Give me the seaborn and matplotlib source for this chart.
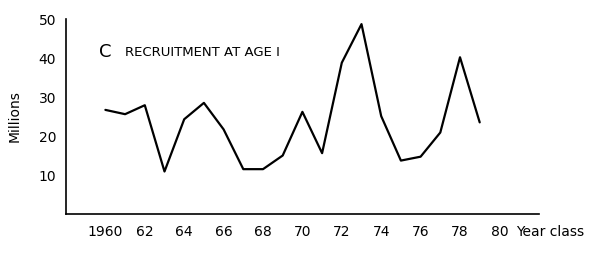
import matplotlib
matplotlib.use("Agg")
import matplotlib.pyplot as plt
import seaborn as sns
import pandas as pd

years = [1960, 1961, 1962, 1963, 1964, 1965, 1966, 1967, 1968, 1969,
         1970, 1971, 1972, 1973, 1974, 1975, 1976, 1977, 1978, 1979]
recruits = [26.7, 25.6, 27.9, 10.9, 24.3, 28.5, 21.7, 11.5, 11.5, 15.0,
            26.2, 15.6, 38.8, 48.7, 25.1, 13.7, 14.7, 20.9, 40.2, 23.5]
xticks = [1960, 1962, 1964, 1966, 1968, 1970, 1972, 1974, 1976, 1978, 1980]
xticklabels = ["1960", "62", "64", "66", "68", "70", "72", "74", "76", "78", "80"]
yticks = [10, 20, 30, 40, 50]

sns.set_style("white")
plt.rcParams['font.family'] = ['DejaVu Sans']
plt.rcParams['text.color'] = 'black'
plt.rcParams['xtick.color'] = 'black'
plt.rcParams['ytick.color'] = 'black'
plt.rcParams['axes.labelcolor'] = 'black'

df = pd.DataFrame({"year": years, "millions": recruits})

fig = plt.figure(figsize=(6, 2.54), dpi=100)
ax = fig.add_axes([0.11, 0.1575, 0.788, 0.7675])
sns.lineplot(data=df, x="year", y="millions", ax=ax, color="black", linewidth=1.6)

ax.set_xlim(1958, 1982)
ax.set_ylim(0, 50)
ax.set_xticks(xticks)
ax.set_xticklabels(xticklabels, fontsize=10)
ax.set_yticks(yticks)
ax.set_yticklabels([str(v) for v in yticks], fontsize=10)
ax.tick_params(axis="x", direction="in", length=4, width=1, pad=8, colors="black")
ax.tick_params(axis="y", direction="out", length=4, width=1, pad=3, colors="black")
ax.set_xlabel("")
ax.set_ylabel("Millions", fontsize=10, labelpad=12, color="black")
sns.despine(ax=ax)
for s in ["left", "bottom"]:
    ax.spines[s].set_color("black")
    ax.spines[s].set_linewidth(1.2)

ax.text(1980.85, -4.6, "Year class", fontsize=10, ha="left", va="center",
        color="black", clip_on=False)
ax.text(1959.7, 41.5, "C", fontsize=13, ha="left", va="center", color="black")
ax.text(1961.0, 41.3, "RECRUITMENT AT AGE I", fontsize=9.5, ha="left",
        va="center", color="black")

fig.savefig("out.png", dpi=100)
